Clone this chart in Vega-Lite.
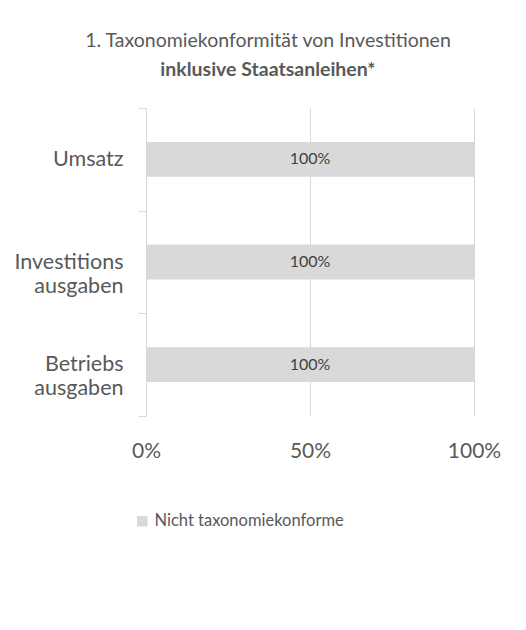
{
  "$schema": "https://vega.github.io/schema/vega-lite/v6.json",
  "width": 328,
  "height": 308,
  "autosize": "none",
  "padding": {"left": 146, "top": 108, "right": 52, "bottom": 214},
  "background": "#ffffff",
  "config": {
    "font": "Lato",
    "view": {"stroke": null}
  },
  "title": {
    "text": "1. Taxonomiekonformität von Investitionen",
    "subtitle": "inklusive Staatsanleihen*",
    "anchor": "middle",
    "frame": "group",
    "dx": -42,
    "offset": 17,
    "font": "Lato",
    "fontSize": 19.5,
    "fontWeight": "normal",
    "color": "#595959",
    "subtitleFont": "Lato",
    "subtitleFontSize": 19.5,
    "subtitleFontWeight": "bold",
    "subtitleColor": "#595959",
    "subtitlePadding": 9
  },
  "data": {
    "values": [
      {"kategorie": "Umsatz", "anteil": 1, "serie": "Nicht taxonomiekonforme"},
      {"kategorie": "Investitions ausgaben", "anteil": 1, "serie": "Nicht taxonomiekonforme"},
      {"kategorie": "Betriebs ausgaben", "anteil": 1, "serie": "Nicht taxonomiekonforme"}
    ]
  },
  "encoding": {
    "y": {
      "field": "kategorie",
      "type": "nominal",
      "sort": null,
      "scale": {"paddingInner": 0, "paddingOuter": 0},
      "axis": {
        "title": null,
        "tickBand": "extent",
        "tickSize": 8,
        "tickColor": "#D9D9D9",
        "domainColor": "#D9D9D9",
        "labelPadding": 15,
        "labelFontSize": 21.5,
        "labelColor": "#595959",
        "labelFont": "Lato",
        "labelLineHeight": 24,
        "labelExpr": "split(datum.label, ' ')"
      }
    },
    "x": {
      "field": "anteil",
      "type": "quantitative",
      "scale": {"domain": [0, 1]},
      "axis": {
        "title": null,
        "format": ".0%",
        "values": [0, 0.5, 1],
        "domain": false,
        "ticks": false,
        "grid": true,
        "gridColor": "#D9D9D9",
        "labelPadding": 24,
        "labelFontSize": 21,
        "labelColor": "#595959",
        "labelFont": "Lato",
        "labelFlush": false
      }
    }
  },
  "layer": [
    {
      "mark": {"type": "bar", "color": "#D9D9D9", "height": {"band": 0.34}},
      "encoding": {
        "color": {
          "field": "serie",
          "type": "nominal",
          "scale": {"range": ["#D9D9D9"]},
          "legend": {
            "title": null,
            "orient": "none",
            "legendX": -12,
            "legendY": 405,
            "symbolType": "square",
            "symbolSize": 110,
            "symbolStrokeWidth": 0,
            "labelFontSize": 16.5,
            "labelLimit": 0,
            "labelColor": "#595959",
            "labelFont": "Lato",
            "labelOffset": 4
          }
        }
      }
    },
    {
      "mark": {"type": "text", "fontSize": 16, "color": "#404040", "font": "Lato"},
      "encoding": {
        "x": {"datum": 0.5, "type": "quantitative"},
        "text": {"field": "anteil", "type": "quantitative", "format": ".0%"}
      }
    }
  ]
}
